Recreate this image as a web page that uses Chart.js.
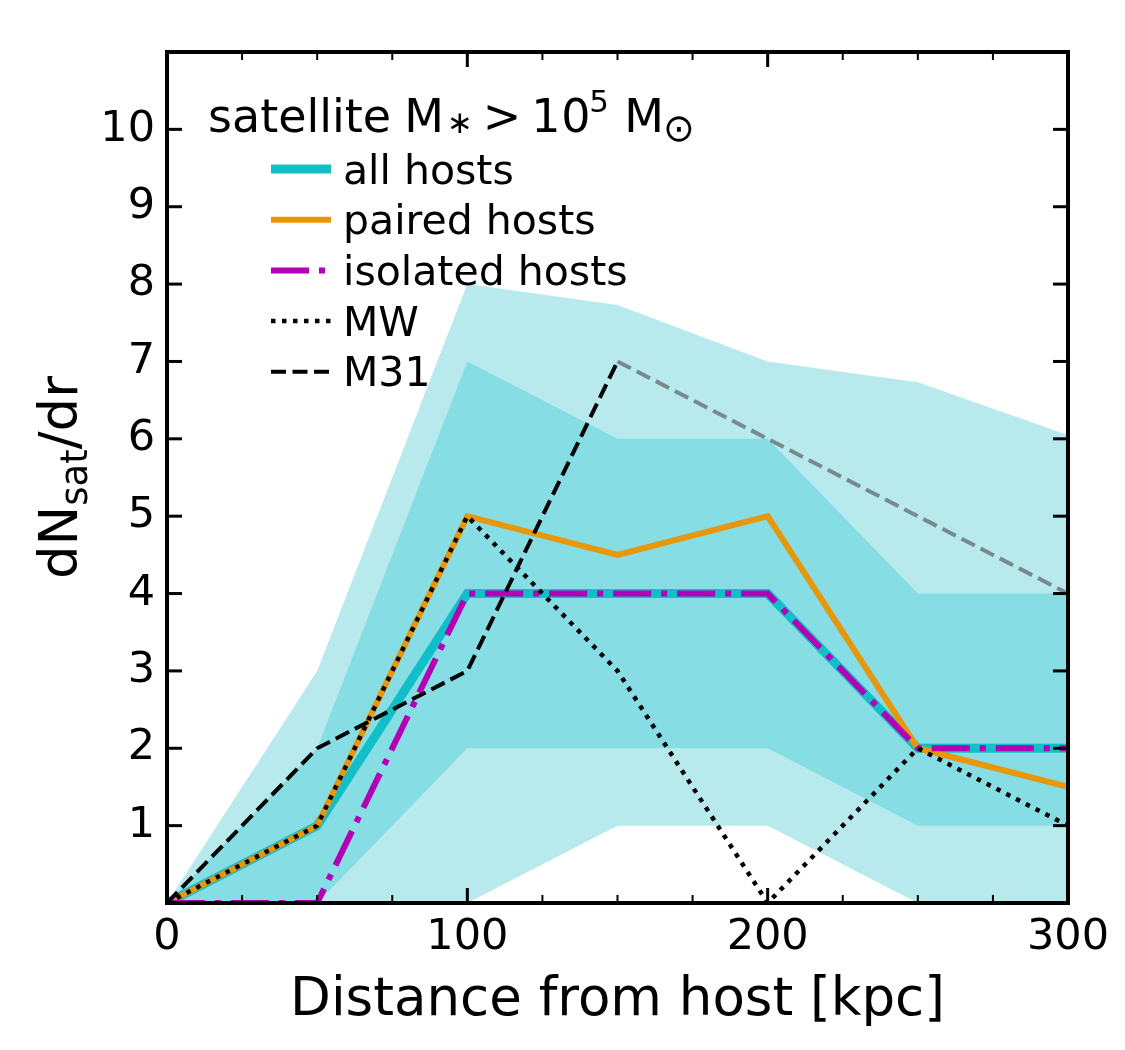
<!DOCTYPE html>
<html>
<head>
<meta charset="utf-8">
<script src="https://cdn.jsdelivr.net/npm/chart.js@4.4.1/dist/chart.umd.min.js"></script>
<style>
  html, body { margin: 0; padding: 0; background: #fff; }
</style>
</head>
<body>
<canvas id="sat-chart" width="1125" height="1050"></canvas>
<script>
Chart.defaults.font.family = "'DejaVu Sans', sans-serif"
Chart.defaults.color = '#000'

// distance bins [kpc] and dN/dr per series
const distance = [0, 50, 100, 150, 200, 250, 300]
const allHosts = [0, 1, 4, 4, 4, 2, 2]
const pairedHosts = [0, 1, 5, 4.5, 5, 2, 1.5]
const isolatedHosts = [0, 0, 4, 4, 4, 2, 2]
const mw = [0, 1, 5, 3, 0, 2, 1]
const m31 = [0, 2, 3, 7, 6, 5, 4]
// scatter bands of all hosts
const innerLow = [0, 0, 2, 2, 2, 1, 1]
const innerHigh = [0, 2, 7, 6, 6, 4, 4]
const outerLow = [0, 0, 0, 1, 1, 0, 0]
const outerHigh = [0, 3, 8, 7.73, 7, 6.73, 6.05]

const xTicks = [0, 100, 200, 300]
const yTicks = [0, 1, 2, 3, 4, 5, 6, 7, 8, 9, 10, 11]
const yTickLabels = [1, 2, 3, 4, 5, 6, 7, 8, 9, 10]

const pts = (ys) => distance.map((x, i) => ({ x, y: ys[i] }))

const line = (label, ys, color, width, dash, extra = {}) => ({
  label,
  data: pts(ys),
  borderColor: color,
  borderWidth: width,
  borderDash: dash,
  pointRadius: 0,
  tension: 0,
  fill: false,
  clip: 0,
  ...extra,
})

const band = (ys, color, target) => ({
  data: pts(ys),
  borderWidth: 0,
  pointRadius: 0,
  backgroundColor: color,
  fill: target === undefined ? false : target,
  clip: 0,
})

const datasets = [
  line('M31', m31, '#000', 4, [15, 6.5], {
    segment: { borderColor: (c) => (c.p0.parsed.x >= 150 ? '#778a8c' : undefined) },
  }),
  line('MW', mw, '#000', 4.5, [4.5, 6.5]),
  line('isolated hosts', isolatedHosts, '#b400b4', 6, [38, 10, 6, 10]),
  line('paired hosts', pairedHosts, '#e8960a', 6, []),
  line('all hosts', allHosts, '#12bfc9', 9, []),
  band(innerHigh, '#86dde3', 6),
  band(innerLow, '#86dde3'),
  band(outerHigh, '#b8eaed', 8),
  band(outerLow, '#b8eaed'),
]

const FONT = "'DejaVu Sans', sans-serif"

const frame = {
  id: 'frame',
  afterDatasetsDraw(chart) {
    const { ctx, chartArea: a, scales: { x, y } } = chart
    const seg = (x1, y1, x2, y2) => {
      ctx.beginPath()
      ctx.moveTo(x1, y1)
      ctx.lineTo(x2, y2)
      ctx.stroke()
    }
    ctx.save()
    ctx.strokeStyle = '#000'
    for (let v = 0; v <= 300; v += 25) {
      const px = x.getPixelForValue(v)
      const major = v % 100 === 0
      const len = major ? 15 : 8
      ctx.lineWidth = major ? 3 : 2
      seg(px, a.bottom, px, a.bottom - len)
      seg(px, a.top, px, a.top + len)
    }
    ctx.lineWidth = 3
    yTicks.forEach((v) => {
      const py = y.getPixelForValue(v)
      seg(a.left, py, a.left + 15, py)
      seg(a.right, py, a.right - 15, py)
    })
    ctx.lineWidth = 4
    ctx.strokeRect(a.left, a.top, a.width, a.height)

    // axis titles
    ctx.fillStyle = '#000'
    ctx.textBaseline = 'alphabetic'
    ctx.textAlign = 'center'
    ctx.font = `53px ${FONT}`
    ctx.fillText('Distance from host [kpc]', (a.left + a.right) / 2, 1015)

    ctx.save()
    ctx.translate(77, (a.top + a.bottom) / 2)
    ctx.rotate(-Math.PI / 2)
    ctx.textAlign = 'left'
    const parts = [
      ['dN', 53, 0],
      ['sat', 37, 10],
      ['/dr', 53, 0],
    ]
    let total = 0
    parts.forEach(([t, s]) => {
      ctx.font = `${s}px ${FONT}`
      total += ctx.measureText(t).width
    })
    let cx = -total / 2
    parts.forEach(([t, s, dy]) => {
      ctx.font = `${s}px ${FONT}`
      ctx.fillText(t, cx, dy)
      cx += ctx.measureText(t).width
    })
    ctx.restore()
    ctx.restore()
  },
}

const legendBox = {
  id: 'legendBox',
  afterDraw(chart) {
    const { ctx } = chart
    ctx.save()
    ctx.fillStyle = '#000'
    ctx.textBaseline = 'alphabetic'

    // title: satellite M_* > 10^5 M_sun
    ctx.textAlign = 'left'
    ctx.font = `46px ${FONT}`
    ctx.fillText('satellite', 208, 132)
    ctx.textAlign = 'center'
    const bits = [
      ['M', 46, 424, 132],
      ['>', 46, 502, 132],
      ['1', 46, 546, 132],
      ['0', 46, 576, 132],
      ['M', 46, 644, 132],
      ['5', 31, 599, 112],
    ]
    bits.forEach(([t, s, bx, by]) => {
      ctx.font = `${s}px ${FONT}`
      ctx.fillText(t, bx, by)
    })
    ctx.textBaseline = 'middle'
    ctx.font = `31px ${FONT}`
    ctx.fillText('\u2217', 460, 125)
    ctx.font = `38px ${FONT}`
    ctx.fillText('\u2299', 679, 131)

    // entries
    const entries = [0, 1, 2, 3, 4].map((i) => chart.data.datasets[4 - i])
    ctx.textAlign = 'left'
    ctx.textBaseline = 'alphabetic'
    ctx.font = `41px ${FONT}`
    entries.forEach((ds, i) => {
      const cy = 169 + i * 50.7
      ctx.save()
      ctx.strokeStyle = ds.borderColor
      ctx.lineWidth = ds.borderWidth
      ctx.setLineDash(ds.borderDash || [])
      ctx.beginPath()
      ctx.moveTo(271, cy)
      ctx.lineTo(331, cy)
      ctx.stroke()
      ctx.restore()
      ctx.fillText(ds.label, 343, cy + 14.5)
    })
    ctx.restore()
  },
}

const config = {
  type: 'line',
  data: { datasets },
  options: {
    responsive: false,
    animation: false,
    layout: { padding: { top: 52, right: 57, left: 0, bottom: 0 } },
    plugins: {
      legend: { display: false },
      tooltip: { enabled: false },
    },
    scales: {
      x: {
        type: 'linear',
        min: 0,
        max: 300,
        afterBuildTicks: (s) => {
          s.ticks = xTicks.map((v) => ({ value: v }))
        },
        afterFit: (s) => {
          s.height = 147
        },
        grid: { display: false, drawTicks: false },
        border: { display: false },
        ticks: { font: { size: 43 }, padding: 9, maxRotation: 0, autoSkip: false },
      },
      y: {
        min: 0,
        max: 11,
        afterBuildTicks: (s) => {
          s.ticks = yTicks.map((v) => ({ value: v }))
        },
        afterFit: (s) => {
          s.width = 167
        },
        grid: { display: false, drawTicks: false },
        border: { display: false },
        ticks: {
          font: { size: 43 },
          padding: 12,
          autoSkip: false,
          callback: (v) => (yTickLabels.includes(v) ? String(v) : ''),
        },
      },
    },
  },
  plugins: [frame, legendBox],
}

new Chart(document.getElementById('sat-chart'), config)
</script>
</body>
</html>
